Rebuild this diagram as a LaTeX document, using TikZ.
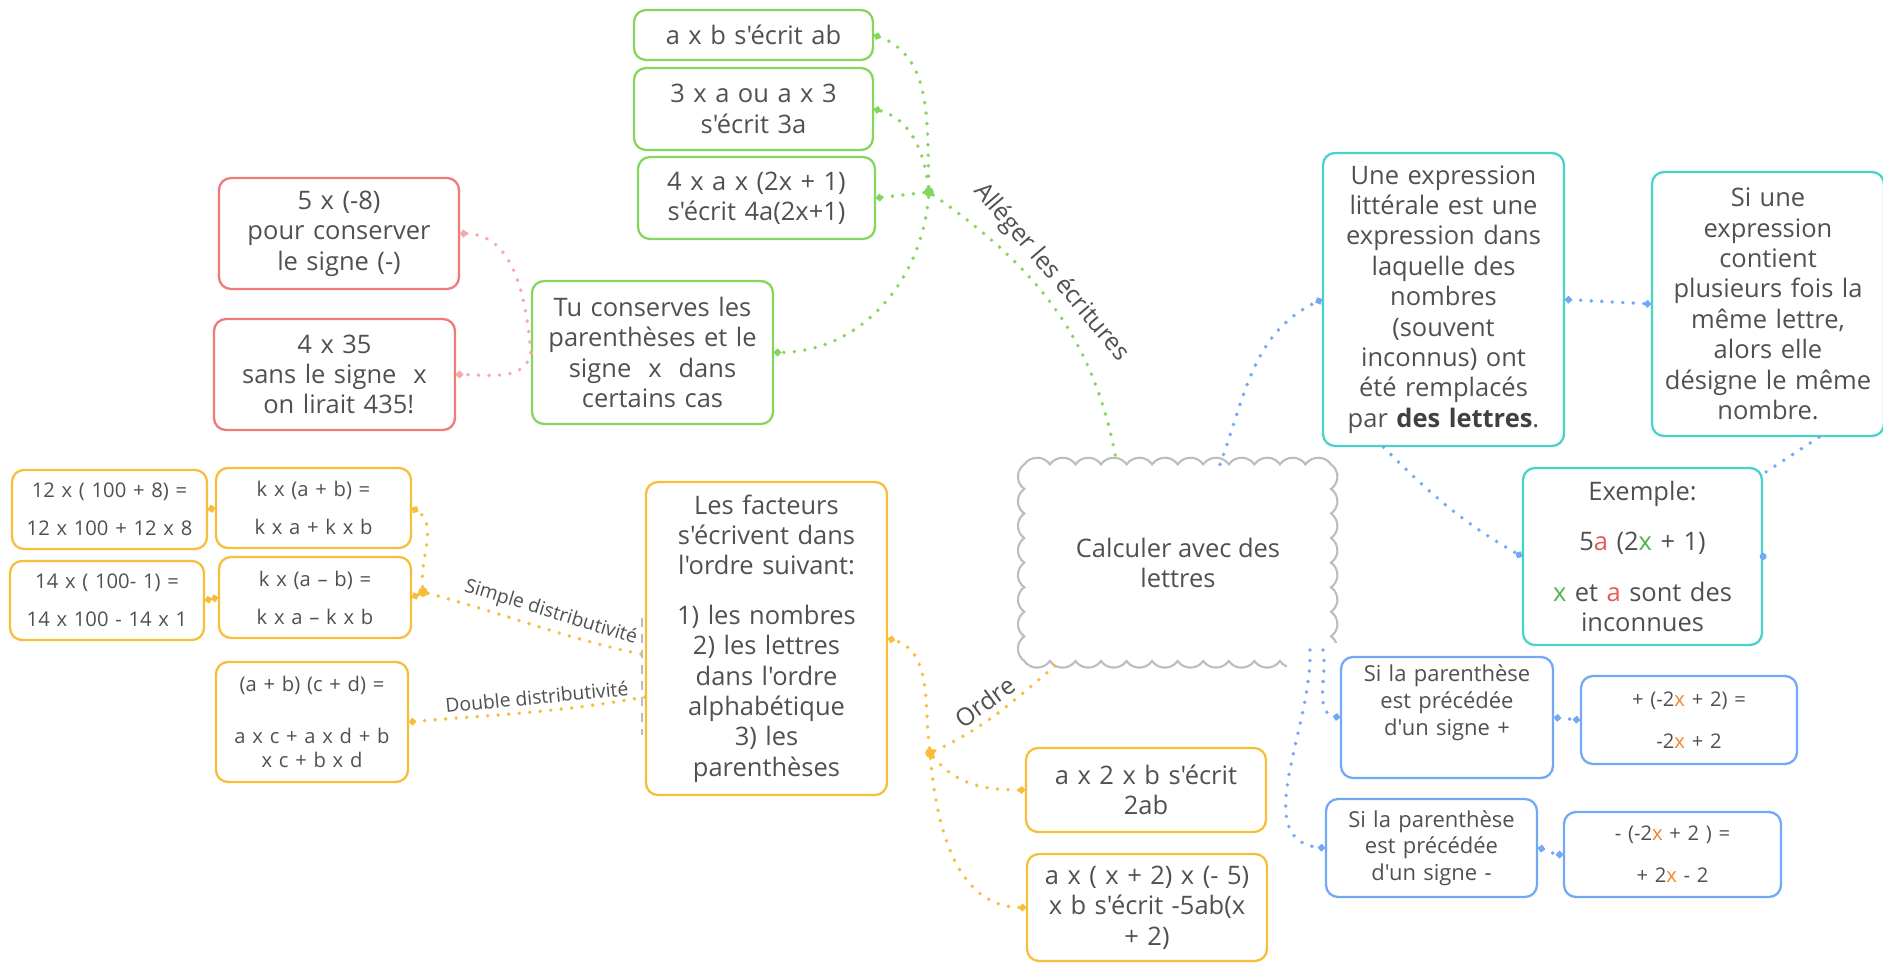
\documentclass[tikz,border=0pt]{standalone}
\usepackage{fontspec}
\setmainfont{Open Sans}[Ligatures=TeXOff]
\usetikzlibrary{positioning,arrows.meta}

\definecolor{grn}{HTML}{84D65F}
\definecolor{rouge}{HTML}{F07A7A}
\definecolor{rose}{HTML}{F5A9A9}
\definecolor{orng}{HTML}{F7BE3C}
\definecolor{turq}{HTML}{45D3CB}
\definecolor{bleu}{HTML}{72A9F4}
\definecolor{txt}{HTML}{505050}
\definecolor{nuage}{HTML}{BDBDBD}
\definecolor{lettreA}{HTML}{E25A5A}
\definecolor{lettreX}{HTML}{4DB34D}
\definecolor{lettreO}{HTML}{F0832A}

\tikzset{
  boite/.style={draw, rounded corners=0.24cm, line width=1.3pt, align=center, inner sep=0pt, text=txt, font=\fontsize{14.5}{17.3}\selectfont},
  moyen/.style={boite, font=\fontsize{12.5}{15.2}\selectfont},
  petit/.style={boite, font=\fontsize{11.5}{14}\selectfont},
  lien/.style={line width=2.2pt, line cap=round, dash pattern=on 0pt off 6pt},
  hub/.style={circle, inner sep=0pt, minimum size=5.5pt},
  etiq/.style={text=txt, font=\fontsize{14}{16}\selectfont, sloped, above, inner sep=3pt},
  petiq/.style={etiq, font=\fontsize{11}{13}\selectfont},
  rond/.tip={Circle[length=3.8pt]},
}

\begin{document}
\begin{tikzpicture}
\useasboundingbox (0,0) rectangle (37.66,-19.26);

\node [boite, draw=grn, minimum width=4.78cm, minimum height=1.00cm, text width=4.5cm] (ab) at (15.07,-0.70) {a x b s'écrit ab};
\node [boite, draw=grn, minimum width=4.78cm, minimum height=1.64cm, text width=4.5cm] (trois) at (15.07,-2.18) {3 x a ou a x 3\\s'écrit 3a};
\node [boite, draw=grn, minimum width=4.74cm, minimum height=1.64cm, text width=4.5cm] (quatre) at (15.13,-3.96) {4 x a x (2x + 1)\\s'écrit 4a(2x+1)};
\node [boite, draw=grn, minimum width=4.82cm, minimum height=2.86cm, text width=4.5cm] (tu) at (13.05,-7.05) {Tu conserves les\\parenthèses et le\\signe~ x~ dans\\certains cas};
\node [boite, draw=rouge, minimum width=4.80cm, minimum height=2.22cm, text width=4.5cm] (negatif) at (6.78,-4.67) {5 x (-8)\\pour conserver\\le signe (-)};
\node [boite, draw=rouge, minimum width=4.82cm, minimum height=2.22cm, text width=4.5cm] (colle) at (6.69,-7.49) {4 x 35\\sans le signe~ x\\~on lirait 435!};

\node [boite, draw=turq, minimum width=4.82cm, minimum height=5.86cm, text width=4.6cm] (def) at (28.87,-5.99) {Une expression\\littérale est une\\expression dans\\laquelle des\\nombres\\(souvent\\inconnus) ont\\été remplacés\\par \textbf{\color{black!75}des lettres}.};
\node [boite, draw=turq, minimum width=4.64cm, minimum height=5.28cm, text width=4.5cm] (meme) at (35.36,-6.08) {Si une\\expression\\contient\\plusieurs fois la\\même lettre,\\alors elle\\désigne le même\\nombre.};
\node [boite, draw=turq, minimum width=4.78cm, minimum height=3.54cm, text width=4.5cm] (ex) at (32.85,-11.13) {Exemple:\\[0.4cm]5\textcolor{lettreA}{a} (2\textcolor{lettreX}{x} + 1)\\[0.4cm]\textcolor{lettreX}{x} et \textcolor{lettreA}{a} sont des\\inconnues};

\node [text=txt, font=\fontsize{14.5}{17.3}\selectfont, align=center, inner sep=0pt, minimum width=6.133cm, minimum height=3.931cm] (calc) at (23.56,-11.26) {Calculer avec des\\lettres};
\draw [nuage, line width=1.2pt] (calc.north west)
  foreach \i in {1,...,12} {arc[start angle=145, end angle=35, radius=0.312cm]}
  foreach \i in {1,...,8} {arc[start angle=55, end angle=-55, radius=0.30cm]}
  foreach \i in {1,...,12} {arc[start angle=-35, end angle=-145, radius=0.312cm]}
  foreach \i in {1,...,8} {arc[start angle=235, end angle=125, radius=0.30cm]} -- cycle;
\fill [white] (25.74,-12.86) rectangle (26.9,-13.45);

\node [boite, draw=orng, minimum width=4.82cm, minimum height=6.26cm, text width=4.5cm] (ordre) at (15.33,-12.77) {Les facteurs\\s'écrivent dans\\l'ordre suivant:\\[0.38cm]1) les nombres\\2) les lettres\\dans l'ordre\\alphabétique\\3) les\\parenthèses};
\node [boite, draw=orng, minimum width=4.80cm, minimum height=1.68cm, text width=4.5cm] (deuxab) at (22.92,-15.80) {a x 2 x b s'écrit\\2ab};
\node [boite, draw=orng, minimum width=4.80cm, minimum height=2.14cm, text width=4.5cm] (cinqab) at (22.94,-18.15) {a x ( x + 2) x (- 5)\\x b s'écrit -5ab(x\\+ 2)};
\node [petit, draw=orng, minimum width=3.90cm, minimum height=1.58cm, text width=3.7cm] (douze) at (2.19,-10.19) {12 x ( 100 + 8) =\\[0.27cm]12 x 100 + 12 x 8};
\node [petit, draw=orng, minimum width=3.90cm, minimum height=1.60cm, text width=3.7cm] (kplus) at (6.27,-10.16) {k x (a + b) =\\[0.27cm]k x a + k x b};
\node [petit, draw=orng, minimum width=3.88cm, minimum height=1.58cm, text width=3.7cm] (quatorze) at (2.14,-12.01) {14 x ( 100- 1) =\\[0.27cm]14 x 100 - 14 x 1};
\node [petit, draw=orng, minimum width=3.84cm, minimum height=1.62cm, text width=3.6cm] (kmoins) at (6.30,-11.95) {k x (a – b) =\\[0.27cm]k x a – k x b};
\node [petit, draw=orng, minimum width=3.84cm, minimum height=2.40cm, text width=3.6cm] (double) at (6.24,-14.44) {(a + b) (c + d) =\\[0.54cm]a x c + a x d + b\\x c + b x d};

\node [moyen, draw=bleu, minimum width=4.24cm, minimum height=2.42cm, text width=4.0cm] (pplus) at (28.94,-14.35) {Si la parenthèse\\est précédée\\d'un signe +\\\strut};
\node [petit, draw=bleu, minimum width=4.32cm, minimum height=1.76cm, text width=4.1cm] (rplus) at (33.78,-14.40) {+ (-2\textcolor{lettreO}{x} + 2) =\\[0.35cm]-2\textcolor{lettreO}{x} + 2};
\node [moyen, draw=bleu, minimum width=4.22cm, minimum height=1.96cm, text width=4.0cm] (pmoins) at (28.63,-16.96) {Si la parenthèse\\est précédée\\d'un signe -};
\node [petit, draw=bleu, minimum width=4.34cm, minimum height=1.70cm, text width=4.1cm] (rmoins) at (33.45,-17.09) {- (-2\textcolor{lettreO}{x} + 2 ) =\\[0.35cm]+ 2\textcolor{lettreO}{x} - 2};

\node [hub, fill=grn] (jalleger) at (18.58,-3.84) {};
\node [hub, fill=orng] (jordre) at (18.60,-15.06) {};
\node [hub, fill=orng] (jsimple) at (8.46,-11.84) {};
\coordinate (bas1) at (26.20,-13.0);
\coordinate (bas2) at (26.46,-13.0);

\draw [lien, grn, -rond] (jalleger) to[out=92, in=-20] (ab.east);
\draw [lien, grn, -rond] (jalleger) to[out=97, in=-15] (trois.east);
\draw [lien, grn, -rond] (jalleger) -- (quatre.east);
\draw [lien, grn, -rond] (jalleger) to[out=-95, in=0] (tu.east);
\draw [lien, grn] (jalleger) to[out=-35, in=100] node[etiq, pos=0.4] {Alléger les écritures} ([xshift=-1.22cm]calc.north);

\draw [lien, rose, -rond] (tu.west) to[out=95, in=0] (negatif.east);
\draw [lien, rose, -rond] (tu.west) to[out=-100, in=0] (colle.east);

\draw [lien, bleu, -rond] ([xshift=0.84cm]calc.north) to[out=70, in=205] (def.west);
\draw [lien, bleu, rond-rond] (def.east) -- (meme.west);
\draw [lien, bleu, -rond] ([xshift=-1.2cm]def.south) to[out=-45, in=150] (ex.west);
\draw [lien, bleu] ([xshift=1.02cm]meme.south) -- ([yshift=-0.14cm]ex.north east);
\fill [bleu] (ex.east) circle (2pt);
\draw [lien, bleu, -rond] (bas2) to[out=-80, in=170] (pplus.west);
\draw [lien, bleu, -rond] (bas1) to[out=-88, in=175] (pmoins.west);
\draw [lien, bleu, rond-rond] (pplus.east) -- (rplus.west);
\draw [lien, bleu, rond-rond] (pmoins.east) to[out=-10, in=180] (rmoins.west);

\draw [lien, orng] (jordre) to[out=25, in=220] node[etiq, pos=0.45] {Ordre} ([xshift=-2.36cm]calc.south);
\draw [lien, orng, -rond] (jordre) to[out=97, in=-15] (ordre.east);
\draw [lien, orng, -rond] (jordre) to[out=-50, in=180] (deuxab.west);
\draw [lien, orng, -rond] (jordre) to[out=-85, in=180] (cinqab.west);

\draw [lien, orng] (jsimple) to[out=-15, in=168] node[petiq, pos=0.55] {Simple distributivité} ([yshift=-0.33cm]ordre.west);
\draw [lien, orng, rond-] (double.east) to[out=5, in=190] node[petiq, pos=0.55] {Double distributivité} ([yshift=-1.17cm]ordre.west);
\draw [lien, orng, -rond] (jsimple) to[out=95, in=-30] (kplus.east);
\draw [lien, orng, -rond] (jsimple) -- (kmoins.east);
\draw [lien, orng, rond-rond] (douze.east) -- (kplus.west);
\draw [lien, orng, rond-rond] (quatorze.east) -- (kmoins.west);
\draw [nuage, line width=0.8pt, dash pattern=on 5pt off 4pt] (12.84,-12.36) -- (12.84,-14.70);
\end{tikzpicture}
\end{document}
